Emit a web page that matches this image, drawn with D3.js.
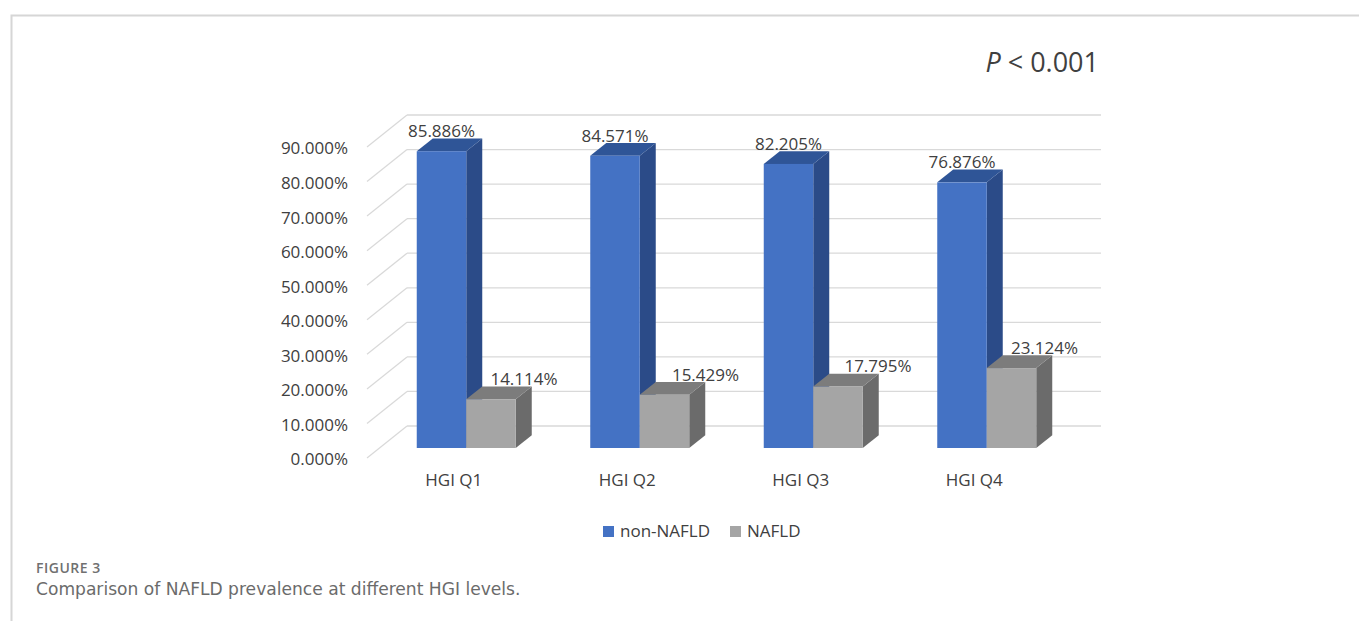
<!DOCTYPE html>
<html>
<head>
<meta charset="utf-8">
<script src="https://cdn.jsdelivr.net/npm/d3@7/dist/d3.min.js"></script>
<style>
  html, body { margin: 0; padding: 0; background: #ffffff; }
  svg { display: block; }
  text { font-family: "Open Sans", "Noto Sans", sans-serif; }
</style>
</head>
<body>
<svg id="chart" width="1359" height="621"></svg>
<script>
// ---- data ----
const categories = ["HGI Q1", "HGI Q2", "HGI Q3", "HGI Q4"];
const seriesNames = ["non-NAFLD", "NAFLD"];
const nonNAFLD = [85.886, 84.571, 82.205, 76.876];
const NAFLD = [14.114, 15.429, 17.795, 23.124];
const yTicks = [0, 10, 20, 30, 40, 50, 60, 70, 80, 90];

// ---- layout / style ----
const W = 1359, H = 621;
const wallLeft = 407, wallRight = 1101;      // back wall extent
const wallBottom = 426, wallTop = 115;       // 0 % and 90 % on the back wall
const floorDepth = { dx: -40, dy: 32 };      // back wall -> front edge of floor
const barFront = 0.6875, barBack = 0.2875;   // depth fractions of bar faces
const groupFrac = 0.5706;                    // bar pair width / category width
const grayLabelNudge = [33, 41, 40, 33];     // horizontal shift of NAFLD labels
const textColor = "#404040";
const gridColor = "#d9d9d9";
const colors = {
  "non-NAFLD": { front: "#4472c4", top: "#2f5597", side: "#2b4b88" },
  "NAFLD":     { front: "#a5a5a5", top: "#7c7c7c", side: "#6b6b6b" }
};

const svg = d3.select("#chart");

// figure frame
svg.append("path")
  .attr("d", `M11.5,${H} L11.5,15.5 L${W},15.5`)
  .attr("fill", "none")
  .attr("stroke", "#d6d6d6")
  .attr("stroke-width", 2);

// scales
const x0 = d3.scaleBand().domain(categories).range([wallLeft, wallRight]).padding(0);
const groupW = x0.bandwidth() * groupFrac;
const x1 = d3.scaleBand().domain(seriesNames).range([0, groupW]).padding(0);
const y = d3.scaleLinear().domain([0, 90]).range([wallBottom, wallTop]);

const off = f => ({ dx: floorDepth.dx * f, dy: floorDepth.dy * f });

// gridlines: back wall horizontals + side wall diagonals
const grid = svg.append("g").attr("stroke", gridColor).attr("stroke-width", 1.3);
grid.selectAll("line.h").data(yTicks).join("line")
  .attr("class", "h")
  .attr("x1", wallLeft).attr("x2", wallRight)
  .attr("y1", d => y(d)).attr("y2", d => y(d));
grid.selectAll("line.d").data(yTicks).join("line")
  .attr("class", "d")
  .attr("x1", wallLeft + floorDepth.dx).attr("y1", d => y(d) + floorDepth.dy)
  .attr("x2", wallLeft).attr("y2", d => y(d));

// y axis on the front edge
const yFront = d3.scaleLinear().domain(y.domain()).range(y.range().map(v => v + floorDepth.dy));
const yAxis = svg.append("g")
  .attr("transform", `translate(${wallLeft + floorDepth.dx},1.5)`)
  .call(d3.axisLeft(yFront).tickValues(yTicks).tickSize(0).tickPadding(19)
    .tickFormat(d => d3.format(".3f")(d) + "%"));
yAxis.select(".domain").remove();
yAxis.selectAll("text").attr("fill", textColor).style("font-size", "17px")
  .style("font-family", "'Open Sans', sans-serif");

// x axis labels at the front of the floor
const xAxis = svg.append("g")
  .attr("transform", `translate(${floorDepth.dx},474)`)
  .call(d3.axisBottom(x0).tickSize(0).tickPadding(0));
xAxis.select(".domain").remove();
xAxis.selectAll("text").attr("fill", textColor).style("font-size", "17px")
  .style("font-family", "'Open Sans', sans-serif");

// 3D bars
const rows = categories.map((c, i) => ({
  cat: c, i,
  values: [
    { s: "non-NAFLD", v: nonNAFLD[i] },
    { s: "NAFLD", v: NAFLD[i] }
  ]
}));

const F = off(barFront), B = off(barBack);
const bars = svg.append("g");
rows.forEach(r => {
  const gx = x0(r.cat) + (x0.bandwidth() - groupW) / 2;
  r.values.forEach(d => {
    const xb = gx + x1(d.s), w = x1.bandwidth();
    const fx = xb + F.dx, bx = xb + B.dx;
    const fy0 = y(0) + F.dy, fyT = y(d.v) + F.dy;
    const by0 = y(0) + B.dy, byT = y(d.v) + B.dy;
    const c = colors[d.s];
    const g = bars.append("g");
    g.append("polygon")
      .attr("points", [[fx + w, fyT], [bx + w, byT], [bx + w, by0], [fx + w, fy0]].join(" "))
      .attr("fill", c.side);
    g.append("polygon")
      .attr("points", [[fx, fyT], [fx + w, fyT], [bx + w, byT], [bx, byT]].join(" "))
      .attr("fill", c.top);
    g.append("rect")
      .attr("x", fx).attr("y", fyT)
      .attr("width", w).attr("height", fy0 - fyT)
      .attr("fill", c.front);
    // value label
    const nudge = d.s === "NAFLD" ? grayLabelNudge[r.i] : 0;
    g.append("text")
      .attr("x", fx + w / 2 + nudge)
      .attr("y", fyT - 20)
      .attr("dy", "0.35em")
      .attr("text-anchor", "middle")
      .attr("fill", textColor)
      .style("font-size", "17px")
      .text(d3.format(".3f")(d.v) + "%");
  });
});

// significance note
const pNote = svg.append("text")
  .attr("x", 1099).attr("y", 72)
  .attr("text-anchor", "end")
  .attr("fill", textColor)
  .style("font-size", "27px");
pNote.append("tspan").style("font-style", "italic").text("P");
pNote.append("tspan").text(" < 0.001");

// legend
const legend = svg.append("g");
const legendX = [603, 730];
seriesNames.forEach((s, i) => {
  legend.append("rect")
    .attr("x", legendX[i]).attr("y", 526)
    .attr("width", 11).attr("height", 11)
    .attr("fill", colors[s].front);
  legend.append("text")
    .attr("x", legendX[i] + 17).attr("y", 531.5)
    .attr("dy", "0.35em")
    .attr("fill", textColor)
    .style("font-size", "17px")
    .text(s);
});

// caption
svg.append("text")
  .attr("x", 36).attr("y", 573)
  .attr("fill", "#707070")
  .style("font-size", "14px")
  .style("letter-spacing", "0.5px")
  .style("font-weight", 600)
  .text("FIGURE 3");
svg.append("text")
  .attr("x", 36).attr("y", 595)
  .attr("fill", "#6b6b6b")
  .style("font-family", "'DejaVu Sans', sans-serif")
  .style("font-size", "17.1px")
  .text("Comparison of NAFLD prevalence at different HGI levels.");
</script>
</body>
</html>
